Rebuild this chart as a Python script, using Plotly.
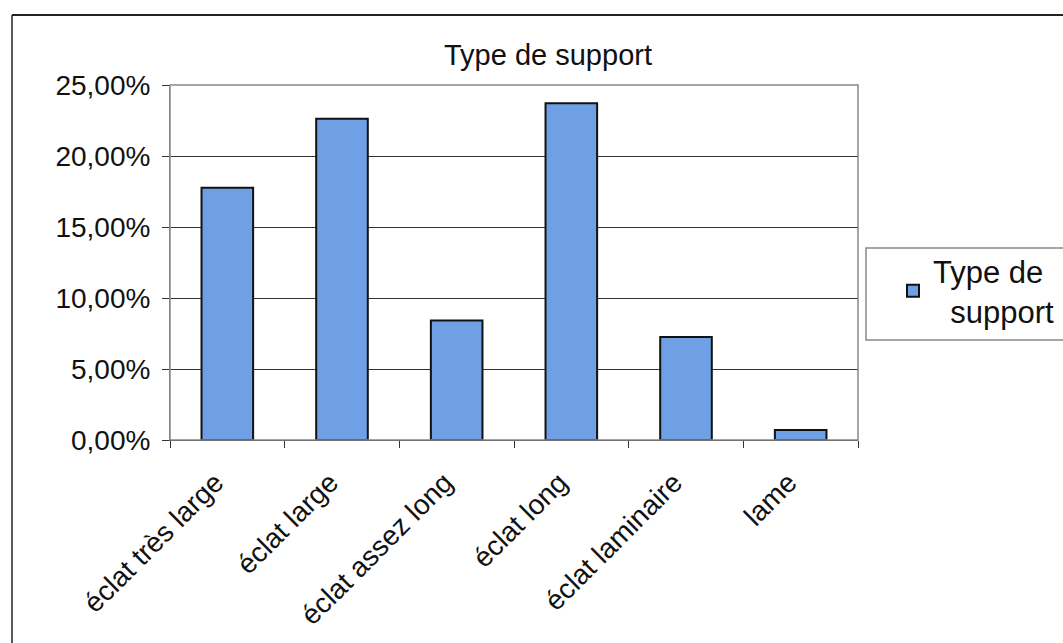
import plotly.graph_objects as go

categories = ["éclat très large", "éclat large", "éclat assez long", "éclat long", "éclat laminaire", "lame"]
values = [0.1777, 0.2263, 0.0842, 0.2372, 0.0726, 0.0070]
series_name = "Type de<br>\u00a0\u00a0support"
title_text = "Type de support"
y_ticks = [0, 0.05, 0.10, 0.15, 0.20, 0.25]

W, H = 1063, 643
L, R, T, B = 170, 858, 85, 440

def px_x(p):
    return (p - L) / (R - L)

def px_y(p):
    return (B - p) / (B - T)

fig = go.Figure()
fig.add_trace(go.Bar(
    x=categories, y=values, name=series_name,
    marker=dict(color="#6fa0e6", line=dict(color="#111111", width=2)),
    showlegend=True,
))

fig.update_layout(
    width=W, height=H,
    margin=dict(l=L, r=W - R, t=T, b=H - B, autoexpand=False),
    paper_bgcolor="white", plot_bgcolor="white",
    separators=", ",
    font=dict(family="Liberation Sans, Arial, sans-serif", color="#111111", size=28),
    title=dict(text=title_text, x=px_x(548), xref="paper", xanchor="center",
               y=1 - 55 / H, yanchor="middle", font=dict(size=29)),
    bargap=0.55,
    showlegend=True,
    legend=dict(x=px_x(893), y=px_y(244), xanchor="left", yanchor="top",
                borderwidth=0, bgcolor="rgba(0,0,0,0)",
                font=dict(size=31), itemsizing="constant",
                entrywidth=160, tracegroupgap=0),
    xaxis=dict(showgrid=False, ticks="outside", tickson="boundaries", ticklen=7,
               tickcolor="#333333", tickangle=-45, showline=True, linecolor="#333333",
               linewidth=1, mirror=False, tickfont=dict(size=28),
               ticklabelstandoff=14, ticklabelshift=-12),
    yaxis=dict(range=[0, 0.25], tickvals=y_ticks, tickformat=".2%", showgrid=True,
               gridcolor="#333333", gridwidth=1, ticks="outside", ticklen=7,
               tickcolor="#333333", showline=True, linecolor="#888888", linewidth=1,
               zeroline=False, tickfont=dict(size=28), ticklabelstandoff=6),
    shapes=[
        dict(type="rect", xref="paper", yref="paper", x0=0, x1=1, y0=0, y1=1,
             line=dict(color="#888888", width=1.5), layer="above"),
        dict(type="rect", xref="paper", yref="paper", x0=px_x(866), x1=px_x(1075),
             y0=px_y(340), y1=px_y(248), line=dict(color="#888888", width=1.5),
             fillcolor="white", layer="below"),
        dict(type="line", xref="paper", yref="paper", x0=px_x(12), x1=px_x(1070),
             y0=px_y(15), y1=px_y(15), line=dict(color="#222222", width=2)),
        dict(type="line", xref="paper", yref="paper", x0=px_x(12), x1=px_x(12),
             y0=px_y(15), y1=px_y(660), line=dict(color="#222222", width=1.5)),
    ],
)

fig.write_html("out.html")
